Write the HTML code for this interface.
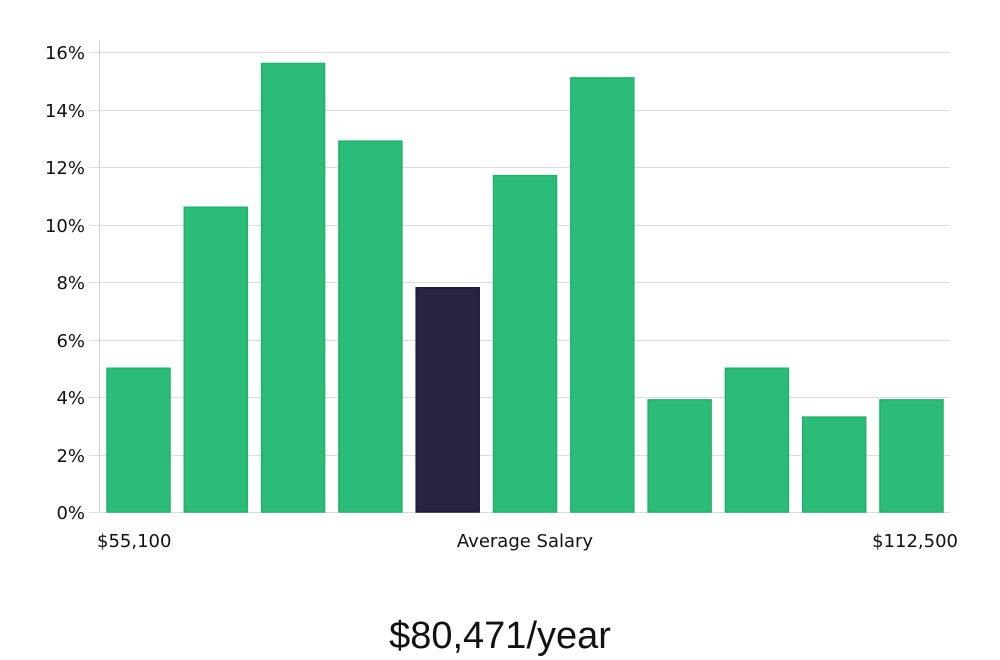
<!DOCTYPE html>
<html><head><meta charset="utf-8"><style>
html,body{margin:0;padding:0;background:#fff;width:1000px;height:660px;overflow:hidden}
svg text{font-family:"DejaVu Sans","Liberation Sans",sans-serif;fill:#111}
</style></head><body>
<svg id="chart" width="1000" height="660" xmlns="http://www.w3.org/2000/svg">
<g id="grid"></g>
<g id="yticks"></g>
<g id="bars"></g>
<line x1="99.5" y1="40" x2="99.5" y2="512" stroke="#d0d0d0" stroke-width="1"/>
<text x="97" y="547" font-size="18">$55,100</text>
<text x="525" y="547" font-size="18" text-anchor="middle">Average Salary</text>
<text x="958" y="547" font-size="18" text-anchor="end">$112,500</text>
<text x="500" y="648" font-size="38" text-anchor="middle" style="font-family:'Liberation Sans',sans-serif;font-weight:300" fill="#111">$80,471/year</text>
</svg>
<script>
const values = [5.0, 10.6, 15.6, 12.9, 7.8, 11.7, 15.1, 3.9, 5.0, 3.3, 3.9];
const highlightIndex = 4;
const yTicks = [0, 2, 4, 6, 8, 10, 12, 14, 16];
const NS = "http://www.w3.org/2000/svg";
const y0 = 512, y16 = 52, xStart = 107, pitch = 77.3, bw = 63;
function yScale(v){ return y0 - (v/16)*(y0-y16); }
function xScale(i){ return xStart + i*pitch; }
const grid = document.getElementById('grid'), yt = document.getElementById('yticks'), bars = document.getElementById('bars');
yTicks.forEach(t=>{
  const y = Math.round(yScale(t))+0.5;
  const l = document.createElementNS(NS,'line');
  
  
  l.setAttribute('x1',89); l.setAttribute('x2',950);
  l.setAttribute('y1',y); l.setAttribute('y2',y);
  l.setAttribute('stroke','#dcdcdc'); l.setAttribute('stroke-width','1');
  grid.appendChild(l);
  const tx = document.createElementNS(NS,'text');
  
  
  tx.setAttribute('x',85); tx.setAttribute('y',y+6.5);
  tx.setAttribute('font-size','18'); tx.setAttribute('text-anchor','end');
  tx.textContent = t+'%';
  yt.appendChild(tx);
});
values.forEach((v,i)=>{
  const r = document.createElementNS(NS,'rect');
  
  
  const top = yScale(v);
  r.setAttribute('x',xScale(i)); r.setAttribute('y',top);
  r.setAttribute('width',bw); r.setAttribute('height',y0-top);
  const hl = i===highlightIndex;
  r.setAttribute('fill', hl ? '#272444' : '#2bbd77');
  r.setAttribute('stroke', hl ? '#1d1a36' : '#22b06c');
  r.setAttribute('stroke-width','1.5');
  bars.appendChild(r);
});
</script>
</body></html>
